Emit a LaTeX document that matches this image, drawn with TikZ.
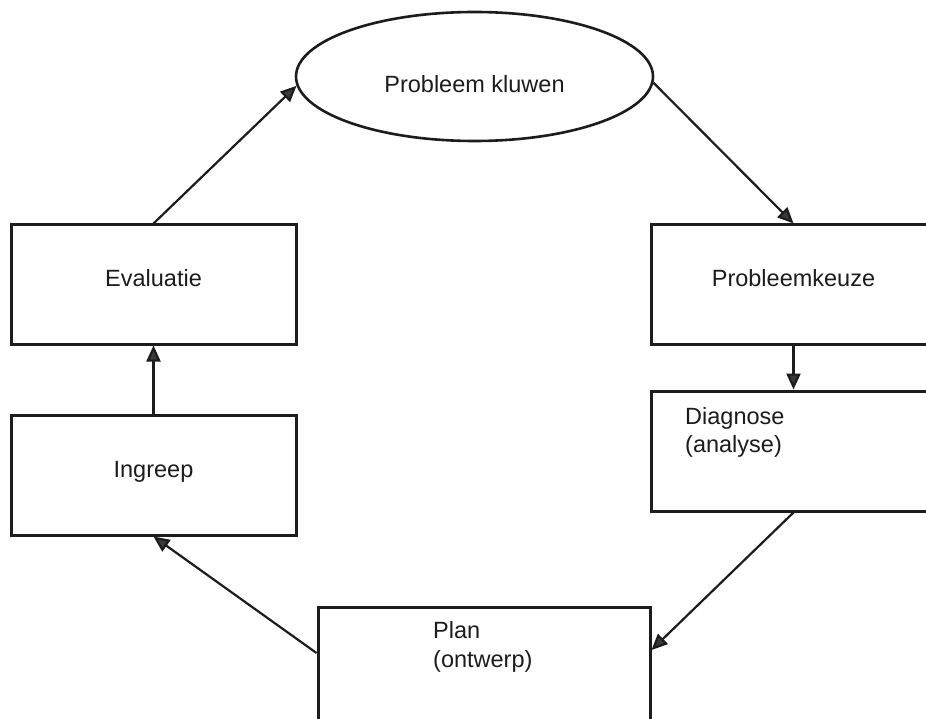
\documentclass[tikz,border=0pt]{standalone}
\usepackage{fontspec}
\setmainfont{Liberation Sans}
\usetikzlibrary{arrows.meta,shapes.geometric}
\definecolor{ink}{HTML}{1C1C1C}
\definecolor{headc}{HTML}{3A3A3A}
\tikzset{
  boxnode/.style={draw=ink, line width=3pt, rectangle, inner sep=0pt},
  ovalnode/.style={draw=ink, line width=2.6pt, ellipse, inner sep=0pt, minimum width=357pt, minimum height=129pt},
  lbl/.style={font=\fontsize{23.5}{28.5}\selectfont, text=ink, inner sep=0pt},
  conn/.style={draw=ink, line width=2.2pt, -{Triangle[length=16pt,width=14pt,fill=headc]}}
}
\begin{document}
\begin{tikzpicture}[x=1pt,y=-1pt]
\useasboundingbox (0,0) rectangle (926,719);
\clip (0,0) rectangle (926,719);
\fill[white] (0,0) rectangle (926,719);
% shapes
\node[ovalnode] (pk) at (474.5,76.5) {};
\node[boxnode, minimum width=285pt, minimum height=119pt] (eval) at (153.5,284.5) {};
\node[boxnode, minimum width=285pt, minimum height=120pt] (ing) at (153.5,475) {};
\node[boxnode, minimum width=285pt, minimum height=119pt] (keuze) at (793.5,284.5) {};
\node[boxnode, minimum width=285pt, minimum height=120pt] (diag) at (793.5,451) {};
\node[boxnode, minimum width=332pt, minimum height=120pt] (plan) at (484,667) {};
% labels
\node[lbl, anchor=base] (tpk) at (474.5,93) {Probleem kluwen};
\node[lbl, anchor=base] (teval) at (153.5,287) {Evaluatie};
\node[lbl, anchor=base] (ting) at (153.5,477) {Ingreep};
\node[lbl, anchor=base] (tkeuze) at (793.5,287) {Probleemkeuze};
\node[lbl, anchor=base west, align=left] (tdiag1) at (685,424) {Diagnose};
\node[lbl, anchor=base west, align=left] (tdiag2) at (685,452) {(analyse)};
\node[lbl, anchor=base west, align=left] (tplan1) at (433,638) {Plan};
\node[lbl, anchor=base west, align=left] (tplan2) at (433,667) {(ontwerp)};
% connectors
\draw[conn] (eval.north) -- (pk.183);
\draw[conn] (pk.358) -- (keuze.north);
\draw[conn] (keuze.south) -- (diag.north);
\draw[conn] (diag.south) -- ([yshift=17pt]plan.east);
\draw[conn] ([yshift=14pt]plan.west) -- (ing.south);
\draw[conn] (ing.north) -- (eval.south);
\end{tikzpicture}
\end{document}
